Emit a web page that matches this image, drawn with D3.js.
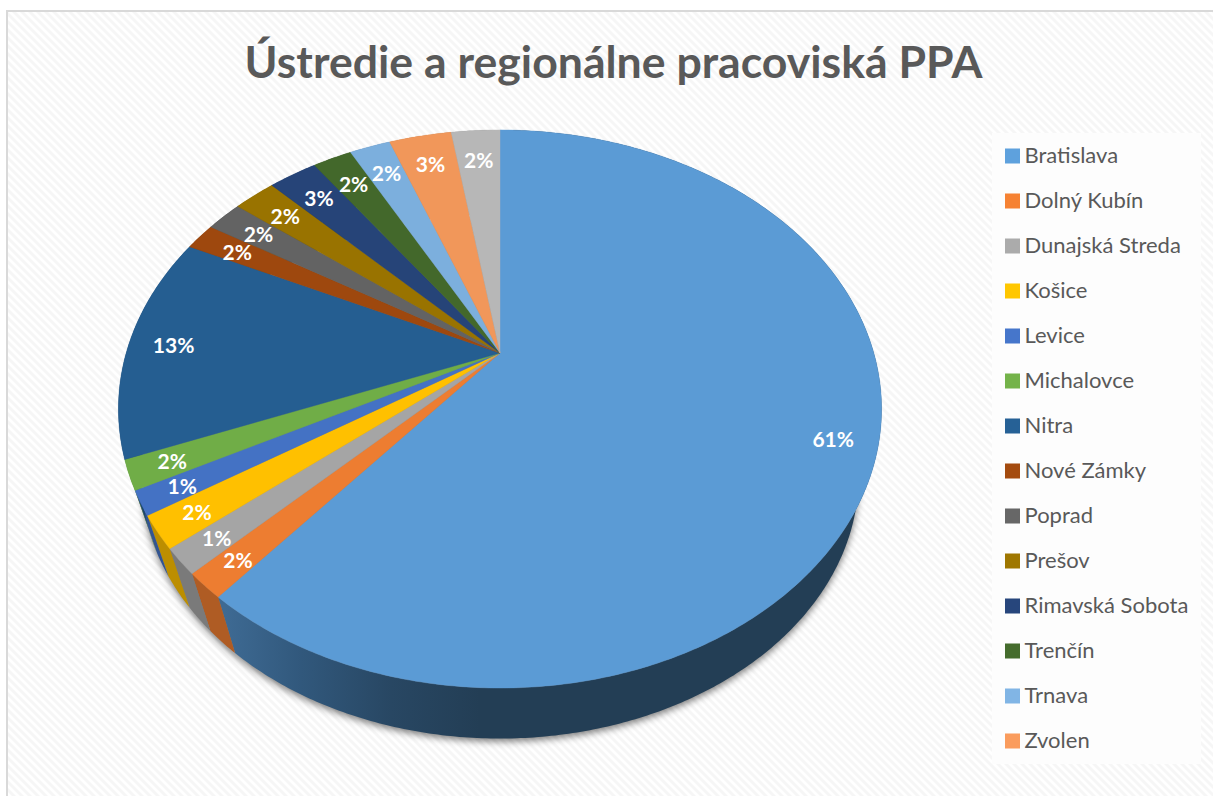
<!DOCTYPE html>
<html><head><meta charset="utf-8">
<script src="https://cdn.jsdelivr.net/npm/d3@7/dist/d3.min.js"></script>
<style>html,body{margin:0;padding:0;background:#fff;overflow:hidden}svg{display:block}text{font-family:Lato,"Open Sans",sans-serif}</style>
</head><body><div id="chart"></div>
<script>
const titleText = "Ústredie a regionálne pracoviská PPA";
const categories = ["Bratislava","Dolný Kubín","Dunajská Streda","Košice","Levice","Michalovce","Nitra","Nové Zámky","Poprad","Prešov","Rimavská Sobota","Trenčín","Trnava","Zvolen"];
const values = [61.0,1.5,1.5,1.9,1.4,1.7,13.1,1.6,1.85,2.15,2.5,2.0,2.1,3.2,2.5];
const valueLabels = ["61%","2%","1%","2%","1%","2%","13%","2%","2%","2%","3%","2%","2%","3%","2%"];
const sliceColors = ["#5B9BD5","#ED7D31","#A5A5A5","#FFC000","#4472C4","#70AD47","#255E91","#9E480E","#636363","#997300","#264478","#43682B","#7CAFDD","#F1975A","#B7B7B7"];

const W = 1213, H = 796;
const svg = d3.select("#chart").append("svg").attr("width",W).attr("height",H);
const defs = svg.append("defs");

// chart-area stripes
const pat = defs.append("pattern").attr("id","stripes").attr("patternUnits","userSpaceOnUse")
  .attr("width",8).attr("height",8);
pat.append("rect").attr("width",8).attr("height",8).attr("fill","#ffffff");
pat.append("path").attr("d","M0,0L4,0L8,4L8,8L0,0ZM0,4L4,8L0,8Z").attr("fill","#f6f6f6");

const grad = defs.append("linearGradient").attr("id","wallGrad").attr("gradientUnits","userSpaceOnUse")
  .attr("x1",225).attr("x2",480).attr("y1",0).attr("y2",0);
grad.append("stop").attr("offset",0).attr("stop-color","#3E6A93");
grad.append("stop").attr("offset",0.3).attr("stop-color","#31587C");
grad.append("stop").attr("offset",0.65).attr("stop-color","#284763");
grad.append("stop").attr("offset",1).attr("stop-color","#233E55");

const flt = defs.append("filter").attr("id","pieShadow").attr("x","-10%").attr("y","-10%").attr("width","120%").attr("height","125%");
flt.append("feGaussianBlur").attr("stdDeviation",3.5);

svg.append("rect").attr("x",7).attr("y",11).attr("width",W+10).attr("height",H+10)
  .attr("fill","url(#stripes)").attr("stroke","#d9d9d9").attr("stroke-width",2);

svg.append("text").attr("x",613.5).attr("y",78).attr("text-anchor","middle")
  .attr("font-size",44.6).attr("font-weight",700).attr("fill","#595959").text(titleText);

// perspective projection of the pie disc
const cx = 500, cy = 353, kP = 0.2007, bP = 267.8, cP = 373.8;
const wallScale = 0.94, vanishY = 1530;
function project(theta, r){
  const u = r*Math.sin(theta), v = -r*Math.cos(theta), w = 1 - kP*v;
  return [cx + cP*u/w, cy + bP*v/w];
}
const lower = p => [cx + (p[0]-cx)*wallScale, vanishY + (p[1]-vanishY)*wallScale];

const arcs = d3.pie().sort(null).startAngle(0).endAngle(2*Math.PI)(values);
const line = d3.line();
const rim = d => {
  const n = Math.max(4, Math.ceil((d.endAngle-d.startAngle)/0.01));
  return d3.range(n+1).map(i => project(d.startAngle + (d.endAngle-d.startAngle)*i/n, 1));
};

// soft shadow cast by the lower edge of the disc only
svg.append("path")
  .attr("d", line(arcs.flatMap(d => rim(d).map(lower))) + "Z")
  .attr("transform","translate(0,3)")
  .attr("fill","#000").attr("fill-opacity",0.5).attr("filter","url(#pieShadow)");

const walls = svg.append("g");
walls.selectAll("path").data(arcs).join("path")
  .attr("d", d => { const t = rim(d); return line(t.concat(t.map(lower).reverse())) + "Z"; })
  .attr("fill", (d,i) => i===0 ? "url(#wallGrad)" : d3.rgb(sliceColors[i]).darker(0.85).formatHex());

svg.append("g").selectAll("path").data(arcs).join("path")
  .attr("d", d => line([[cx,cy]].concat(rim(d))) + "Z")
  .attr("fill",(d,i)=>sliceColors[i])
  .attr("stroke",(d,i)=>sliceColors[i]).attr("stroke-width",0.4);

svg.append("g").selectAll("text").data(arcs).join("text")
  .each(function(d,i){
    const mid = (d.startAngle+d.endAngle)/2;
    const r = 0.88 + 0.03*(-Math.cos(mid));
    const p = project(mid, r);
    d3.select(this).attr("x",p[0]).attr("y",p[1]+8.5);
  })
  .attr("text-anchor","middle").attr("font-size",21).attr("font-weight",700).attr("fill","#fff")
  .text((d,i)=>valueLabels[i]);

// legend
const rowY = d3.scalePoint().domain(categories).range([156,741]);
svg.append("rect").attr("x",992).attr("y",133).attr("width",209).attr("height",631).attr("fill","#fdfdfd");
const leg = svg.append("g").selectAll("g").data(categories).join("g")
  .attr("transform",d=>`translate(1005,${rowY(d)})`);
leg.append("rect").attr("y",-7.5).attr("width",15).attr("height",15)
  .attr("fill",(d,i)=>d3.color(sliceColors[i]).brighter(0.1).formatHex());
leg.append("text").attr("x",19.5).attr("y",7).attr("font-size",22).attr("fill","#595959").text(d=>d);
</script>
</body></html>
